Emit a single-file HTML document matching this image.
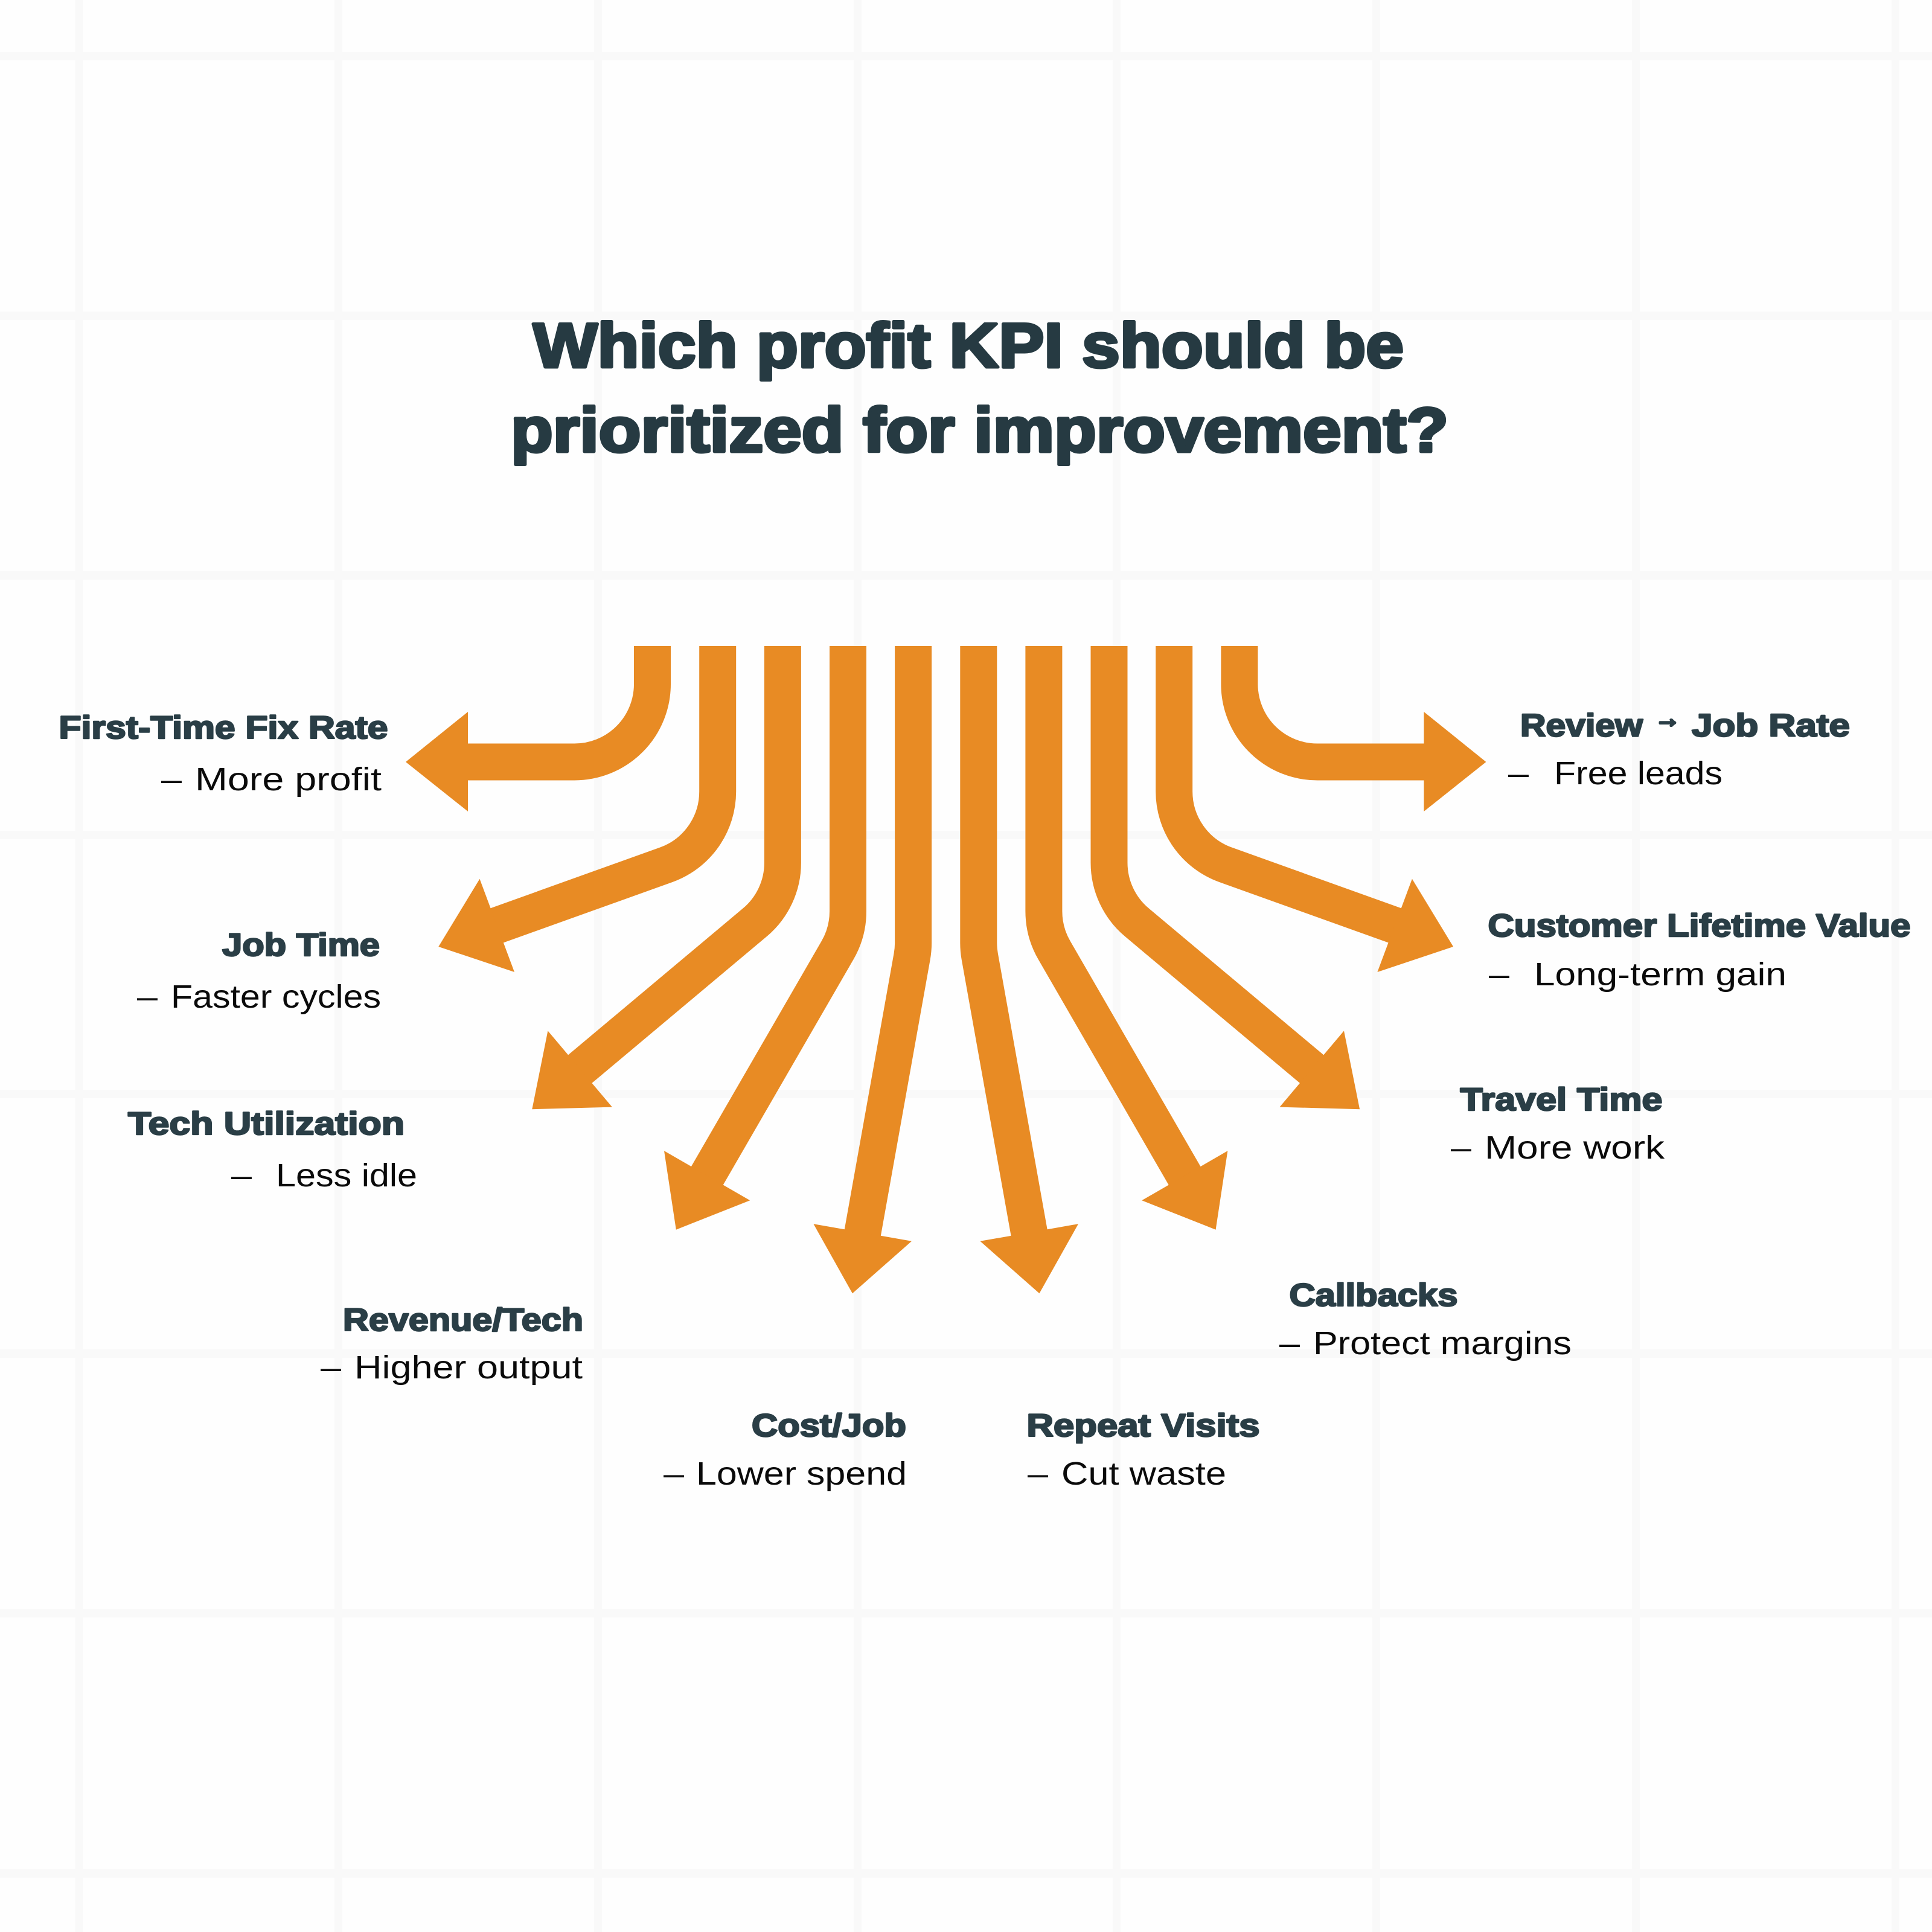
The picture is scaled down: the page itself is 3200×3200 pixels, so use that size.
<!DOCTYPE html>
<html>
<head>
<meta charset="utf-8">
<style>
html,body{margin:0;padding:0;background:#fefefe;}
svg{display:block;}
.t{font-family:"Liberation Sans",sans-serif;font-weight:700;font-size:104px;fill:#263a42;stroke:#263a42;stroke-width:5px;stroke-linejoin:round;}
.h{font-family:"Liberation Sans",sans-serif;font-weight:700;font-size:53px;fill:#2a3e46;stroke:#2a3e46;stroke-width:2.5px;stroke-linejoin:round;}
.b{font-family:"Liberation Sans",sans-serif;font-weight:400;font-size:54px;fill:#0a0a0a;}
</style>
</head>
<body>
<svg xmlns="http://www.w3.org/2000/svg" width="3200" height="3200" viewBox="0 0 3200 3200">
<rect width="3200" height="3200" fill="#fefefe"/>
<g fill="#f9f9f9">
<rect x="124.500" y="0" width="13" height="3200"/>
<rect x="554" y="0" width="13" height="3200"/>
<rect x="984" y="0" width="13" height="3200"/>
<rect x="1414" y="0" width="13" height="3200"/>
<rect x="1843" y="0" width="13" height="3200"/>
<rect x="2273" y="0" width="13" height="3200"/>
<rect x="2703" y="0" width="13" height="3200"/>
<rect x="3133" y="0" width="13" height="3200"/>
<rect x="0" y="86" width="3200" height="14"/>
<rect x="0" y="516" width="3200" height="14"/>
<rect x="0" y="946" width="3200" height="14"/>
<rect x="0" y="1376" width="3200" height="14"/>
<rect x="0" y="1805" width="3200" height="14"/>
<rect x="0" y="2235" width="3200" height="14"/>
<rect x="0" y="2665" width="3200" height="14"/>
<rect x="0" y="3096" width="3200" height="14"/>
</g>

<text class="t" x="883" y="608" textLength="1442" lengthAdjust="spacingAndGlyphs">Which profit KPI should be</text>
<text class="t" x="846" y="748" textLength="1553" lengthAdjust="spacingAndGlyphs">prioritized for improvement?</text>

<g fill="none" stroke="#e88b24" stroke-width="61">
<path d="M1080.500 1070V1133A129 129 0 0 1 951.500 1262H770"/>
<path d="M1188.700 1070V1311A129 129 0 0 1 1103.800 1432.200L819 1534.300"/>
<path d="M1296.400 1070V1429A129 129 0 0 1 1250.300 1527.800L957 1773.800"/>
<path d="M1404.500 1070V1509.400A129 129 0 0 1 1387.200 1573.900L1169 1951.400"/>
<path d="M1512.600 1070V1562A129 129 0 0 1 1510.600 1584.400L1428 2046"/>
</g>
<g fill="#e88b24">
<polygon points="775,1179 672,1262 775,1344"/>
<polygon points="794.500,1455.800 726.300,1568 852,1610"/>
<polygon points="907.400,1707.400 881.300,1837.200 1013.900,1833.600"/>
<polygon points="1100,1906.100 1119.800,2036.700 1242.200,1988.300"/>
<polygon points="1347.400,2027.200 1411.900,2142.300 1510,2055.800"/>
</g>
<g transform="matrix(-1 0 0 1 3133.400 0)">
<g fill="none" stroke="#e88b24" stroke-width="61">
<path d="M1080.500 1070V1133A129 129 0 0 1 951.500 1262H770"/>
<path d="M1188.700 1070V1311A129 129 0 0 1 1103.800 1432.200L819 1534.300"/>
<path d="M1296.400 1070V1429A129 129 0 0 1 1250.300 1527.800L957 1773.800"/>
<path d="M1404.500 1070V1509.400A129 129 0 0 1 1387.200 1573.900L1169 1951.400"/>
<path d="M1512.600 1070V1562A129 129 0 0 1 1510.600 1584.400L1428 2046"/>
</g>
<g fill="#e88b24">
<polygon points="775,1179 672,1262 775,1344"/>
<polygon points="794.500,1455.800 726.300,1568 852,1610"/>
<polygon points="907.400,1707.400 881.300,1837.200 1013.900,1833.600"/>
<polygon points="1100,1906.100 1119.800,2036.700 1242.200,1988.300"/>
<polygon points="1347.400,2027.200 1411.900,2142.300 1510,2055.800"/>
</g>
</g>

<text class="h" x="97.500" y="1223" textLength="545" lengthAdjust="spacingAndGlyphs">First-Time Fix Rate</text>
<text class="b" x="267" y="1309" textLength="34" lengthAdjust="spacingAndGlyphs">–</text>
<text class="b" x="323" y="1309" textLength="309" lengthAdjust="spacingAndGlyphs">More profit</text>

<text class="h" x="368" y="1583" textLength="261" lengthAdjust="spacingAndGlyphs">Job Time</text>
<text class="b" x="227" y="1669" textLength="34" lengthAdjust="spacingAndGlyphs">–</text>
<text class="b" x="283" y="1669" textLength="348" lengthAdjust="spacingAndGlyphs">Faster cycles</text>

<text class="h" x="212" y="1879" textLength="458" lengthAdjust="spacingAndGlyphs">Tech Utilization</text>
<text class="b" x="383" y="1965" textLength="34" lengthAdjust="spacingAndGlyphs">–</text>
<text class="b" x="457" y="1965" textLength="234" lengthAdjust="spacingAndGlyphs">Less idle</text>

<text class="h" x="568" y="2204" textLength="398" lengthAdjust="spacingAndGlyphs">Revenue/Tech</text>
<text class="b" x="531" y="2283" textLength="34" lengthAdjust="spacingAndGlyphs">–</text>
<text class="b" x="587" y="2283" textLength="378" lengthAdjust="spacingAndGlyphs">Higher output</text>

<text class="h" x="1245" y="2379" textLength="256" lengthAdjust="spacingAndGlyphs">Cost/Job</text>
<text class="b" x="1099" y="2459" textLength="34" lengthAdjust="spacingAndGlyphs">–</text>
<text class="b" x="1153" y="2459" textLength="349" lengthAdjust="spacingAndGlyphs">Lower spend</text>

<text class="h" x="1700.500" y="2379" textLength="386" lengthAdjust="spacingAndGlyphs">Repeat Visits</text>
<text class="b" x="1702" y="2459" textLength="34" lengthAdjust="spacingAndGlyphs">–</text>
<text class="b" x="1758" y="2459" textLength="273" lengthAdjust="spacingAndGlyphs">Cut waste</text>

<text class="h" x="2135.500" y="2163" textLength="279" lengthAdjust="spacingAndGlyphs">Callbacks</text>
<text class="b" x="2119" y="2243" textLength="34" lengthAdjust="spacingAndGlyphs">–</text>
<text class="b" x="2175" y="2243" textLength="428" lengthAdjust="spacingAndGlyphs">Protect margins</text>

<text class="h" x="2418.500" y="1839" textLength="335" lengthAdjust="spacingAndGlyphs">Travel Time</text>
<text class="b" x="2403" y="1919" textLength="34" lengthAdjust="spacingAndGlyphs">–</text>
<text class="b" x="2459" y="1919" textLength="298" lengthAdjust="spacingAndGlyphs">More work</text>

<text class="h" x="2464.500" y="1551" textLength="700" lengthAdjust="spacingAndGlyphs">Customer Lifetime Value</text>
<text class="b" x="2466" y="1632" textLength="34" lengthAdjust="spacingAndGlyphs">–</text>
<text class="b" x="2541" y="1632" textLength="418" lengthAdjust="spacingAndGlyphs">Long-term gain</text>

<text class="h" x="2518" y="1219.500" textLength="203" lengthAdjust="spacingAndGlyphs">Review</text>
<text class="h" x="2741" y="1204" style="font-size:42px;stroke-width:4px">→</text>
<text class="h" x="2802" y="1219.500" textLength="262" lengthAdjust="spacingAndGlyphs">Job Rate</text>
<text class="b" x="2498" y="1299" textLength="34" lengthAdjust="spacingAndGlyphs">–</text>
<text class="b" x="2574" y="1299" textLength="279" lengthAdjust="spacingAndGlyphs">Free leads</text>
</svg>
</body>
</html>
